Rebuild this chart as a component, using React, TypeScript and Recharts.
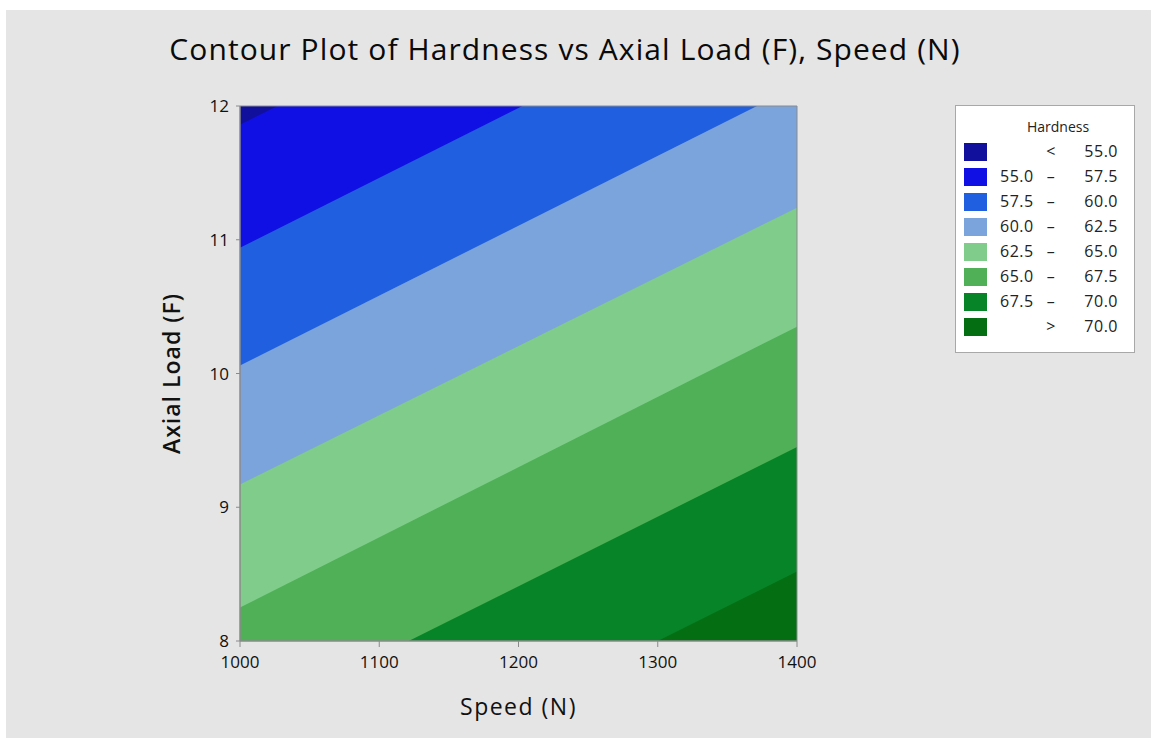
import { ComposedChart, Area, XAxis, YAxis, ReferenceArea, Label } from "recharts";

// contour boundaries: axial load where each level crosses speed 1000 / 1400
const speeds = [1000, 1400];
const contourLevels = [55, 57.5, 60, 62.5, 65, 67.5, 70];
const loadAtSpeed1000 = [11.86, 10.94, 10.06, 9.17, 8.25, 7.37, 6.44];
const loadAtSpeed1400 = [13.94, 13.03, 12.15, 11.24, 10.35, 9.45, 8.52];

const speedTicks = [1000, 1100, 1200, 1300, 1400];
const loadTicks = [8, 9, 10, 11, 12];

const bandColors = [
  "#10109c",
  "#1010e4",
  "#2060e0",
  "#7ba4dc",
  "#80cc8a",
  "#4fb058",
  "#088428",
  "#036e12",
];
const bandFrom = ["", "55.0", "57.5", "60.0", "62.5", "65.0", "67.5", ""];
const bandSep = ["<", "–", "–", "–", "–", "–", "–", ">"];
const bandTo = ["55.0", "57.5", "60.0", "62.5", "65.0", "67.5", "70.0", "70.0"];

const FONT = '"Open Sans", sans-serif';

const data = speeds.map((speed, i) => {
  const row: Record<string, unknown> = { speed, b0: [0, 20] };
  contourLevels.forEach((_, k) => {
    const load = i === 0 ? loadAtSpeed1000[k] : loadAtSpeed1400[k];
    row[`b${k + 1}`] = [0, load];
  });
  return row;
});

function HardnessLegend() {
  return (
    <div
      style={{
        position: "absolute",
        left: 955,
        top: 105,
        width: 180,
        height: 248,
        boxSizing: "border-box",
        background: "#fff",
        border: "1px solid #a8a8a8",
        fontFamily: FONT,
        color: "#222",
      }}
    >
      <div
        style={{
          position: "absolute",
          left: 0,
          width: 204,
          top: 11,
          textAlign: "center",
          fontSize: 14,
          fontWeight: 500,
        }}
      >
        Hardness
      </div>
      {bandColors.map((c, i) => (
        <div key={i}>
          <div
            style={{
              position: "absolute",
              left: 8,
              top: 37 + i * 25,
              width: 23,
              height: 18,
              background: c,
            }}
          />
          <div
            style={{
              position: "absolute",
              top: 34 + i * 25,
              left: 44,
              width: 118,
              height: 22,
              fontSize: 16,
              fontWeight: 500,
              lineHeight: "22px",
              letterSpacing: 0.5,
            }}
          >
            <span style={{ position: "absolute", left: 0 }}>{bandFrom[i]}</span>
            <span
              style={{
                position: "absolute",
                left: 40,
                width: 22,
                textAlign: "center",
              }}
            >
              {bandSep[i]}
            </span>
            <span style={{ position: "absolute", right: 0 }}>{bandTo[i]}</span>
          </div>
        </div>
      ))}
    </div>
  );
}

export default function App() {
  return (
    <div
      style={{
        position: "fixed",
        left: 0,
        top: 0,
        width: 1151,
        height: 738,
        background: "#fff",
        overflow: "hidden",
      }}
    >
      <div
        style={{
          position: "absolute",
          left: 6,
          top: 10,
          width: 1145,
          height: 728,
          background: "#e5e5e5",
        }}
      />
      <div
        style={{
          position: "absolute",
          left: 0,
          top: 28,
          width: 1130,
          textAlign: "center",
          fontFamily: FONT,
          fontSize: 30,
          fontWeight: 500,
          letterSpacing: 1.1,
          color: "#0a0a0a",
        }}
      >
        Contour Plot of Hardness vs Axial Load (F), Speed (N)
      </div>
      <div style={{ position: "absolute", left: 0, top: 0 }}>
        <ComposedChart
          width={1151}
          height={738}
          data={data}
          margin={{ top: 106, right: 354, bottom: 22, left: 160 }}
          style={{ fontFamily: FONT }}
        >
          <XAxis
            dataKey="speed"
            type="number"
            domain={[1000, 1400]}
            ticks={speedTicks}
            allowDataOverflow
            height={75}
            tickSize={6}
            tickMargin={9}
            stroke="#8a8a8a"
            tick={{ fontSize: 17, fill: "#111" }}
          >
            <Label
              value="Speed (N)"
              position="insideBottom"
              offset={1}
              style={{ fontSize: 23, fill: "#111", letterSpacing: 1.5 }}
            />
          </XAxis>
          <YAxis
            type="number"
            domain={[8, 12]}
            ticks={loadTicks}
            allowDataOverflow
            width={80}
            tickSize={4}
            tickMargin={7}
            stroke="#8a8a8a"
            tick={{ fontSize: 17, fill: "#111" }}
          >
            <Label
              value="Axial Load (F)"
              angle={-90}
              position="insideLeft"
              offset={12}
              style={{
                fontSize: 23,
                fill: "#111",
                fontWeight: 600,
                letterSpacing: 1,
                textAnchor: "middle",
              }}
            />
          </YAxis>
          {bandColors.map((c, i) => (
            <Area
              key={i}
              dataKey={`b${i}`}
              type="linear"
              stroke="none"
              fill={c}
              fillOpacity={1}
              dot={false}
              activeDot={false}
              isAnimationActive={false}
            />
          ))}
          <ReferenceArea
            x1={1000}
            x2={1400}
            y1={8}
            y2={12}
            fill="none"
            stroke="#8a8a8a"
          />
        </ComposedChart>
      </div>
      <HardnessLegend />
    </div>
  );
}
